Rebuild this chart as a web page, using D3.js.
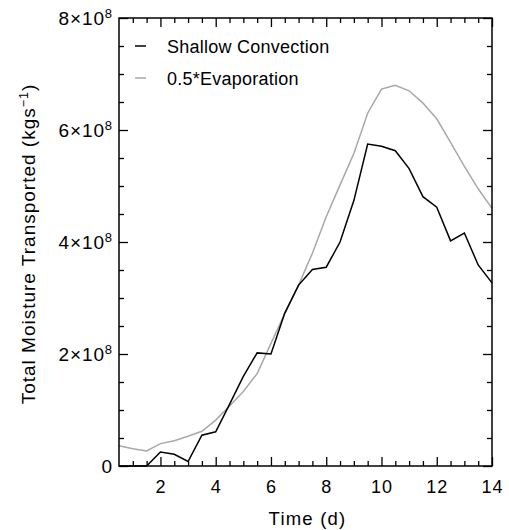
<!DOCTYPE html>
<html><head><meta charset="utf-8">
<script src="https://cdn.jsdelivr.net/npm/d3@7/dist/d3.min.js"></script>
<style>
body{margin:0;background:#fff}
text{font-family:"Liberation Sans",Arial,Helvetica,sans-serif;fill:#000}
</style>
</head><body>
<svg id="chart" width="509" height="530"></svg>
<script>
// Time (days)
const days = [0.5,1,1.5,2,2.5,3,3.5,4,4.5,5,5.5,6,6.5,7,7.5,8,8.5,9,9.5,10,10.5,11,11.5,12,12.5,13,13.5,14];
// Values in units of 1e8 kg s^-1
const shallowConvection = [0,0,0,0.25,0.21,0.08,0.55,0.61,1.10,1.60,2.02,2.00,2.73,3.23,3.51,3.55,4.00,4.74,5.75,5.71,5.63,5.31,4.81,4.62,4.02,4.16,3.59,3.27];
const halfEvaporation   = [0.36,0.31,0.27,0.40,0.45,0.53,0.62,0.82,1.07,1.33,1.65,2.19,2.72,3.23,3.80,4.45,5.02,5.58,6.30,6.73,6.80,6.70,6.48,6.20,5.78,5.35,4.95,4.60];
const seriesNames = ["Shallow Convection","0.5*Evaporation"];
const seriesColors = ["#000000","#a8a8a8"];
const xTicks = [2,4,6,8,10,12,14];
const xMinorTicks = [1,1.5,2.5,3,3.5,4.5,5,5.5,6.5,7,7.5,8.5,9,9.5,10.5,11,11.5,12.5,13,13.5];
const yTicks = [0,2,4,6,8];
const yTickMantissa = ["0","2×10","4×10","6×10","8×10"];
const yTickExponent = ["","8","8","8","8"];
const yMinorTicks = [0.5,1,1.5,2.5,3,3.5,4.5,5,5.5,6.5,7,7.5];

const svg = d3.select("#chart");
const L = 119, R = 492, T = 18, B = 466;
const x = d3.scaleLinear().domain([0.5,14]).range([L,R]);
const y = d3.scaleLinear().domain([0,8]).range([B,T]);

function axisG(axis, tx, ty){
  const g = svg.append("g").attr("transform",`translate(${tx},${ty})`).call(axis);
  g.select(".domain").remove();
  g.selectAll("line").attr("stroke","#000").attr("stroke-width",1.3);
  return g;
}
// major / minor ticks on all four sides (inward)
axisG(d3.axisBottom(x).tickValues(xTicks).tickSize(-9).tickFormat(""),0,B);
axisG(d3.axisBottom(x).tickValues(xMinorTicks).tickSize(-5).tickFormat(""),0,B);
axisG(d3.axisTop(x).tickValues(xTicks).tickSize(-9).tickFormat(""),0,T);
axisG(d3.axisTop(x).tickValues(xMinorTicks).tickSize(-5).tickFormat(""),0,T);
axisG(d3.axisLeft(y).tickValues(yTicks).tickSize(-9).tickFormat(""),L,0);
axisG(d3.axisLeft(y).tickValues(yMinorTicks).tickSize(-5).tickFormat(""),L,0);
axisG(d3.axisRight(y).tickValues(yTicks).tickSize(-9).tickFormat(""),R,0);
axisG(d3.axisRight(y).tickValues(yMinorTicks).tickSize(-5).tickFormat(""),R,0);

// x tick labels
svg.append("g").selectAll("text").data(xTicks).join("text")
  .attr("x",d=>x(d)+0.5).attr("y",B+27).attr("text-anchor","middle")
  .attr("font-size",18).style("letter-spacing","1px").text(d=>d);

// y tick labels
const yl = svg.append("g").selectAll("text").data(yTicks).join("text")
  .attr("x",L-6).attr("y",d=>y(d)+7).attr("text-anchor","end")
  .attr("font-size",19).style("letter-spacing","0.9px");
yl.append("tspan").text((d,i)=>yTickMantissa[i]);
yl.append("tspan").attr("dy",-7).attr("font-size",13).text((d,i)=>yTickExponent[i]);

// lines
const line = d3.line().x((d,i)=>x(days[i])).y(d=>y(d));
svg.append("path").datum(halfEvaporation).attr("d",line)
  .attr("fill","none").attr("stroke",seriesColors[1]).attr("stroke-width",1.5);
svg.append("path").datum(shallowConvection).attr("d",line)
  .attr("fill","none").attr("stroke",seriesColors[0]).attr("stroke-width",1.5);

// frame
svg.append("rect").attr("x",L).attr("y",T).attr("width",R-L).attr("height",B-T)
  .attr("fill","none").attr("stroke","#000").attr("stroke-width",1.5);

// legend
const lg = svg.append("g").selectAll("g").data(seriesNames).join("g")
  .attr("transform",(d,i)=>`translate(0,${46+i*32})`);
lg.append("line").attr("x1",135).attr("x2",146).attr("y1",0).attr("y2",0)
  .attr("stroke",(d,i)=>seriesColors[i]).attr("stroke-width",1.5);
lg.append("text").attr("x",167).attr("y",6.5).attr("font-size",18).style("letter-spacing","0.25px").text(d=>d);

// axis titles
svg.append("text").attr("x",(L+R)/2+2).attr("y",525).attr("text-anchor","middle")
  .attr("font-size",18.5).style("letter-spacing","1.2px").text("Time (d)");
const yt = svg.append("text").attr("transform",`translate(34.5,244) rotate(-90)`)
  .attr("text-anchor","middle").attr("font-size",19).style("letter-spacing","1px");
yt.append("tspan").text("Total Moisture Transported (kgs");
yt.append("tspan").attr("dy",-7).attr("font-size",12.5).text("−1");
yt.append("tspan").attr("dy",7).text(")");
</script>
</body></html>
